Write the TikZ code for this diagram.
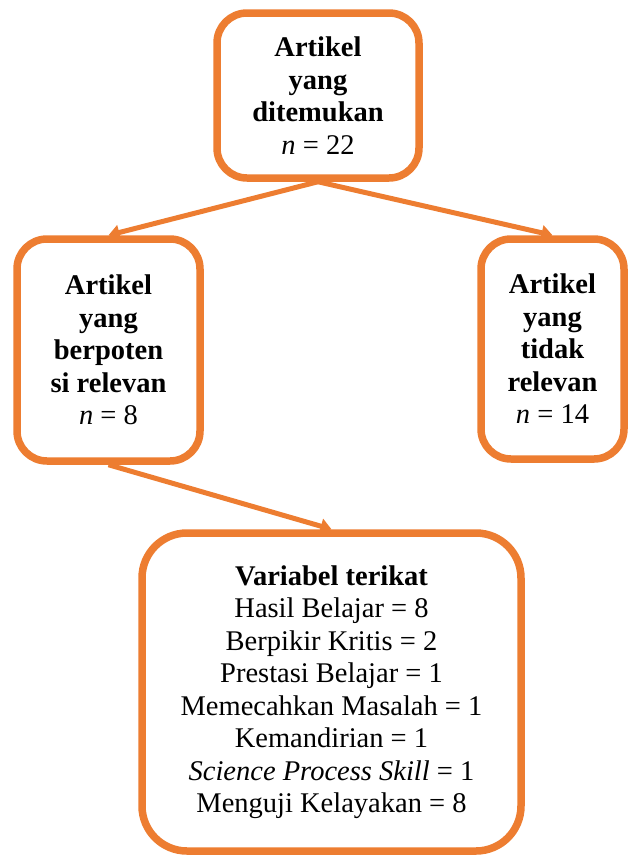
\documentclass[tikz,border=0pt]{standalone}
\usepackage{fontspec}
\setmainfont{Liberation Serif}
\usetikzlibrary{arrows.meta}
\definecolor{orng}{HTML}{ED7D31}
\begin{document}
\begin{tikzpicture}[x=1pt,y=-1pt,
  box/.style={draw=orng,line width=7.5pt,fill=white,align=center,inner sep=0pt,
    font=\fontsize{28.5}{32.5}\selectfont},
  arr/.style={draw=orng,line width=5pt,-{Triangle[length=11pt,width=15pt]}}]
\useasboundingbox (0,0) rectangle (628,855);
\node[box,rounded corners=30pt,minimum width=202pt,minimum height=165pt] (top) at (318,95.5)
  {{\bfseries Artikel}\\{\bfseries yang}\\{\bfseries ditemukan}\\\textit{n} = 22};
\node[box,rounded corners=30pt,minimum width=183pt,minimum height=222pt] (left) at (108.5,350)
  {{\bfseries Artikel}\\{\bfseries yang}\\{\bfseries berpoten}\\{\bfseries si relevan}\\\textit{n} = 8};
\node[box,rounded corners=30pt,minimum width=143pt,minimum height=220pt] (right) at (552.5,349)
  {{\bfseries Artikel}\\{\bfseries yang}\\{\bfseries tidak}\\{\bfseries relevan}\\\textit{n} = 14};
\node[box,rounded corners=45pt,minimum width=379pt,minimum height=318pt] (bot) at (331.5,692)
  {{\bfseries Variabel terikat}\\Hasil Belajar = 8\\Berpikir Kritis = 2\\Prestasi Belajar = 1\\Memecahkan Masalah = 1\\Kemandirian = 1\\\textit{Science Process Skill} = 1\\Menguji Kelayakan = 8};
\draw[arr] (top.south) -- (left.north);
\draw[arr] (top.south) -- (right.north);
\draw[arr] (left.south) -- (bot.north);
\end{tikzpicture}
\end{document}
